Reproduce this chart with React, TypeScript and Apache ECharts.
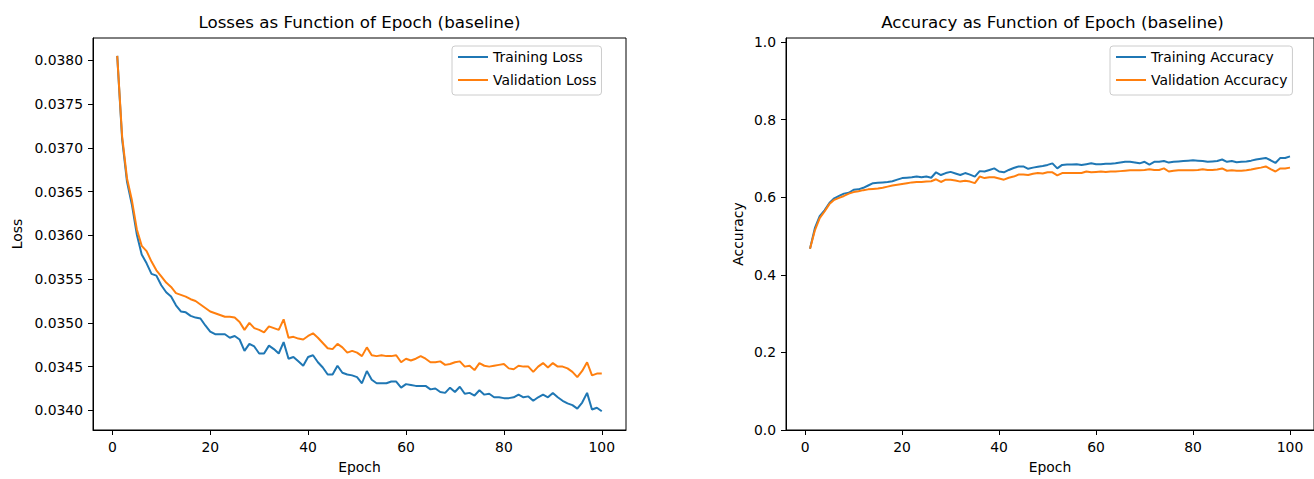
import React, { useEffect, useRef } from "react";
import * as echarts from "echarts";

const epochs = Array.from({ length: 100 }, (_, i) => i + 1);

const trainLoss = [
  0.03805, 0.0371, 0.03661, 0.03635, 0.03601, 0.03578, 0.03568, 0.03556, 0.03554, 0.03543,
  0.03535, 0.0353, 0.0352, 0.03513, 0.03512, 0.03508, 0.03506, 0.03505, 0.03497, 0.0349,
  0.03487, 0.03487, 0.03487, 0.03483, 0.03485, 0.03481, 0.03468, 0.03476, 0.03473, 0.03465,
  0.03465, 0.03474, 0.0347, 0.03465, 0.03478, 0.03459, 0.03461, 0.03456, 0.03451, 0.03461,
  0.03463, 0.03455, 0.03449, 0.03441, 0.03441, 0.03451, 0.03443, 0.03441, 0.0344, 0.03438,
  0.03431, 0.03445, 0.03435, 0.03431, 0.03431, 0.03431, 0.03433, 0.03433, 0.03426, 0.0343,
  0.03429, 0.03428, 0.03428, 0.03428, 0.03424, 0.03425, 0.03421, 0.0342, 0.03426, 0.03421,
  0.03427, 0.03419, 0.0342, 0.03417, 0.03423, 0.03418, 0.03419, 0.03415, 0.03415, 0.03414,
  0.03414, 0.03415, 0.03418, 0.03415, 0.03416, 0.03411, 0.03415, 0.03418, 0.03415, 0.0342,
  0.03415, 0.03411, 0.03408, 0.03406, 0.03402, 0.03409, 0.0342, 0.03401, 0.03403, 0.03399,
];

const valLoss = [
  0.03805, 0.03713, 0.03665, 0.0364, 0.03607, 0.03588, 0.03582, 0.0357, 0.0356, 0.03553,
  0.03546, 0.03541, 0.03534, 0.03532, 0.0353, 0.03527, 0.03525, 0.03521, 0.03517, 0.03513,
  0.03511, 0.03509, 0.03507, 0.03507, 0.03506, 0.03501, 0.03492, 0.035, 0.03494, 0.03492,
  0.03489, 0.03496, 0.03494, 0.03492, 0.03504, 0.03483, 0.03484, 0.03482, 0.03481, 0.03485,
  0.03488, 0.03483, 0.03477, 0.03471, 0.0347, 0.03476, 0.03472, 0.03466, 0.03468, 0.03466,
  0.03462, 0.03472, 0.03463, 0.03462, 0.03463, 0.03462, 0.03462, 0.03463, 0.03455, 0.03459,
  0.03457, 0.03459, 0.03462, 0.03459, 0.03455, 0.03455, 0.03456, 0.03452, 0.03453, 0.03455,
  0.03456, 0.0345, 0.03451, 0.03446, 0.03454, 0.03451, 0.0345, 0.03451, 0.03452, 0.03453,
  0.03448, 0.03447, 0.03451, 0.0345, 0.0345, 0.03444, 0.0345, 0.03454, 0.03449, 0.03454,
  0.0345, 0.0345, 0.03448, 0.03444, 0.03438, 0.03445, 0.03455, 0.0344, 0.03442, 0.03442,
];

const trainAcc = [
  0.467, 0.52, 0.551, 0.566, 0.585, 0.597, 0.603, 0.609, 0.611, 0.619,
  0.62, 0.624, 0.63, 0.636, 0.637, 0.638, 0.639, 0.641, 0.645, 0.649,
  0.65, 0.651, 0.653, 0.651, 0.653, 0.65, 0.664, 0.657, 0.662, 0.665,
  0.661, 0.657, 0.662, 0.658, 0.653, 0.667, 0.666, 0.67, 0.674, 0.666,
  0.664, 0.67, 0.675, 0.679, 0.679, 0.673, 0.676, 0.678, 0.68, 0.683,
  0.687, 0.674, 0.683, 0.684, 0.684, 0.685, 0.683, 0.685, 0.687, 0.685,
  0.685, 0.686, 0.686, 0.687, 0.689, 0.691, 0.691, 0.689, 0.687, 0.691,
  0.684, 0.691, 0.691, 0.693, 0.689, 0.691, 0.692, 0.693, 0.694, 0.695,
  0.694, 0.693, 0.691, 0.692, 0.693, 0.697, 0.691, 0.693, 0.69, 0.691,
  0.692, 0.694, 0.697, 0.699, 0.701, 0.695, 0.688, 0.701, 0.701, 0.705,
];

const valAcc = [
  0.467, 0.514, 0.546, 0.563, 0.582, 0.593, 0.598, 0.603, 0.609, 0.613,
  0.615, 0.618, 0.62, 0.621, 0.622, 0.624, 0.627, 0.63, 0.632, 0.634,
  0.636, 0.638, 0.639, 0.639, 0.64, 0.641, 0.646, 0.639, 0.645, 0.645,
  0.643, 0.64, 0.642, 0.64, 0.636, 0.653, 0.649, 0.651, 0.651, 0.648,
  0.645, 0.65, 0.653, 0.658, 0.658, 0.657, 0.66, 0.662, 0.661, 0.664,
  0.664, 0.656, 0.662, 0.662, 0.662, 0.662, 0.662, 0.666, 0.664, 0.665,
  0.666, 0.665, 0.666, 0.666, 0.667, 0.668, 0.669, 0.669, 0.669, 0.67,
  0.672, 0.67, 0.67, 0.674, 0.666, 0.668, 0.669, 0.669, 0.669, 0.669,
  0.67, 0.672, 0.67, 0.67, 0.671, 0.674, 0.668, 0.669, 0.668, 0.668,
  0.669, 0.671, 0.674, 0.676, 0.679, 0.672, 0.666, 0.674, 0.674, 0.676,
];

const epochTicks = [0, 20, 40, 60, 80, 100];
const lossTicks = [0.034, 0.0345, 0.035, 0.0355, 0.036, 0.0365, 0.037, 0.0375, 0.038];
const accTicks = [0, 0.2, 0.4, 0.6, 0.8, 1.0];

const titles = [
  "Losses as Function of Epoch (baseline)",
  "Accuracy as Function of Epoch (baseline)",
];
const seriesNames = [
  "Training Loss",
  "Validation Loss",
  "Training Accuracy",
  "Validation Accuracy",
];

const FONT = "DejaVu Sans";
const BLUE = "#1f77b4";
const ORANGE = "#ff7f0e";

function pairs(ys: number[]) {
  return ys.map((y, i) => [epochs[i], y]);
}

export default function App() {
  const ref = useRef<HTMLDivElement>(null);
  useEffect(() => {
    if (!ref.current) return;
    const chart = echarts.init(ref.current, undefined, { renderer: "svg" });
    const tickStyle = { show: true, inside: false, length: 5, lineStyle: { color: "#000", width: 1 } };
    const labelBase = { color: "#000", fontFamily: FONT, fontSize: 13.9 };
    const nameStyle = { color: "#000", fontFamily: FONT, fontSize: 13.9 };
    const xAxisFor = (gi: number) => ({
      gridIndex: gi,
      type: "value",
      min: -3.95,
      max: 104.95,
      axisLine: { show: true, onZero: false, lineStyle: { color: "#000", width: 1 } },
      axisTick: { ...tickStyle, customValues: epochTicks },
      axisLabel: { ...labelBase, margin: 10, customValues: epochTicks, formatter: (v: number) => String(v) },
      splitLine: { show: false },
      name: "Epoch",
      nameLocation: "middle",
      nameGap: 30,
      nameTextStyle: nameStyle,
    });
    const legendFor = (names: string[], left: number) => ({
      data: names,
      orient: "vertical",
      left,
      top: 46,
      icon: "rect",
      itemWidth: 30,
      itemHeight: 2,
      itemGap: 9,
      itemTextGap: 12,
      padding: [4, 5, 8, 6],
      backgroundColor: "rgba(255,255,255,0.8)",
      borderColor: "#cccccc",
      borderWidth: 1,
      borderRadius: 3,
      textStyle: { color: "#000", fontFamily: FONT, fontSize: 13.9 },
      selectedMode: false,
    });
    const lineSeries = (name: string, xi: number, ys: number[], color: string) => ({
      name,
      type: "line",
      xAxisIndex: xi,
      yAxisIndex: xi,
      data: pairs(ys),
      showSymbol: false,
      symbol: "none",
      lineStyle: { color, width: 2 },
      itemStyle: { color },
      z: 3,
    });
    chart.setOption({
      animation: false,
      backgroundColor: "#ffffff",
      textStyle: { fontFamily: FONT },
      grid: [
        { left: 93, top: 38, width: 533, height: 396, show: true, borderColor: "#000", borderWidth: 1, backgroundColor: "transparent", containLabel: false },
        { left: 786, top: 38, width: 533, height: 396, show: true, borderColor: "#000", borderWidth: 1, backgroundColor: "transparent", containLabel: false },
      ],
      xAxis: [xAxisFor(0), xAxisFor(1)],
      yAxis: [
        {
          gridIndex: 0,
          type: "value",
          min: 0.033776,
          max: 0.038254,
          axisLine: { show: true, onZero: false, lineStyle: { color: "#000", width: 1 } },
          axisTick: { ...tickStyle, customValues: lossTicks },
          axisLabel: { ...labelBase, margin: 10, customValues: lossTicks, formatter: (v: number) => v.toFixed(4) },
          splitLine: { show: false },
          name: "Loss",
          nameLocation: "middle",
          nameRotate: 90,
          nameGap: 69,
          nameTextStyle: nameStyle,
        },
        {
          gridIndex: 1,
          type: "value",
          min: 0,
          max: 1.01,
          axisLine: { show: true, onZero: false, lineStyle: { color: "#000", width: 1 } },
          axisTick: { ...tickStyle, customValues: accTicks },
          axisLabel: { ...labelBase, margin: 10, customValues: accTicks, formatter: (v: number) => v.toFixed(1) },
          splitLine: { show: false },
          name: "Accuracy",
          nameLocation: "middle",
          nameRotate: 90,
          nameGap: 41,
          nameTextStyle: nameStyle,
        },
      ],
      legend: [legendFor(seriesNames.slice(0, 2), 452), legendFor(seriesNames.slice(2, 4), 1110)],
      series: [
        lineSeries(seriesNames[0], 0, trainLoss, BLUE),
        lineSeries(seriesNames[1], 0, valLoss, ORANGE),
        lineSeries(seriesNames[2], 1, trainAcc, BLUE),
        lineSeries(seriesNames[3], 1, valAcc, ORANGE),
      ],
      graphic: [
        {
          type: "text",
          x: 359.5,
          y: 22,
          style: { text: titles[0], fill: "#000", font: `16.7px "${FONT}"`, textAlign: "center", textVerticalAlign: "middle" },
        },
        {
          type: "text",
          x: 1052.5,
          y: 22,
          style: { text: titles[1], fill: "#000", font: `16.7px "${FONT}"`, textAlign: "center", textVerticalAlign: "middle" },
        },
      ],
    });
    return () => chart.dispose();
  }, []);
  return (
    <div
      ref={ref}
      style={{ position: "absolute", left: 0, top: 0, width: 1314, height: 479, background: "#fff" }}
    />
  );
}
